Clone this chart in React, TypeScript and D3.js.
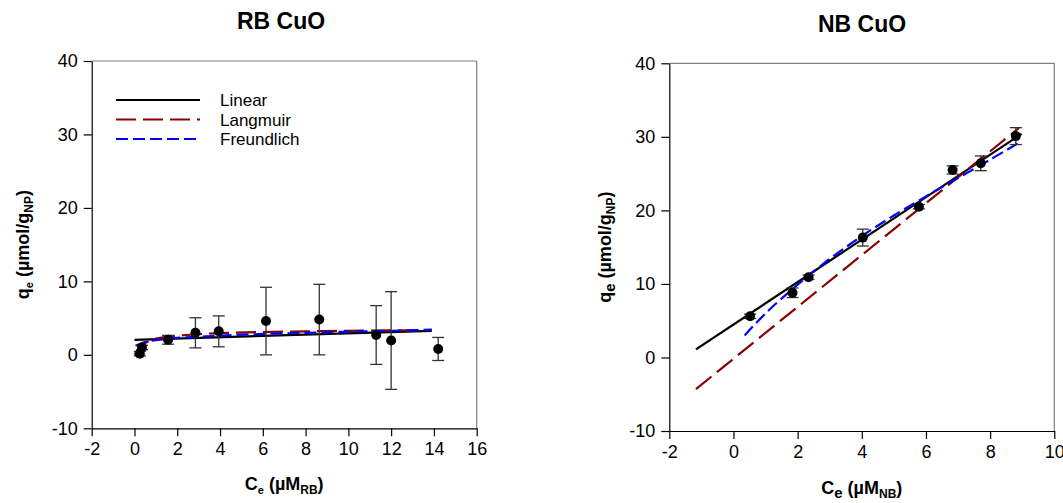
import * as d3 from "d3";
import React from "react";

// RB CuO measured points
const rbCe = [0.25, 0.35, 1.57, 2.85, 3.94, 6.15, 8.64, 11.3, 12.0, 14.2];
const rbQe = [0.15, 1.0, 2.05, 3.0, 3.2, 4.6, 4.8, 2.7, 1.95, 0.8];
const rbErr = [0.3, 0.3, 0.6, 2.05, 2.1, 4.6, 4.8, 4.0, 6.65, 1.57];
// RB fitted curves
const rbLinear = [[0.0, 2.04], [13.9, 3.27]];
const rbLangmuir = [[0.0, 0.0], [0.2, 0.8], [0.5, 1.6], [1.0, 2.2], [2.0, 2.6], [4.0, 2.95], [6.0, 3.1], [8.0, 3.2], [10.0, 3.27], [12.0, 3.32], [13.9, 3.38]];
const rbFreundlich = [[0.05, 1.25], [0.5, 1.75], [1.0, 2.0], [2.0, 2.3], [4.0, 2.6], [6.0, 2.85], [8.0, 3.0], [10.0, 3.15], [12.0, 3.28], [13.9, 3.42]];

// NB CuO measured points
const nbCe = [0.52, 1.84, 2.34, 4.03, 5.78, 6.83, 7.71, 8.8];
const nbQe = [5.6, 8.8, 10.9, 16.3, 20.5, 25.5, 26.4, 30.1];
const nbErr = [0.3, 0.65, 0.3, 1.15, 0.3, 0.55, 1.0, 1.15];
const nbLinear = [[-1.17, 1.1], [8.98, 30.4]];
const nbLangmuir = [[-1.17, -4.3], [8.9, 31.2]];
const nbFreundlich = [[0.35, 3.0], [1.0, 6.0], [2.0, 9.9], [3.0, 13.4], [4.0, 16.5], [5.0, 19.3], [6.0, 21.9], [7.0, 24.4], [8.0, 26.9], [8.9, 29.2]];

const yTicks = [-10, 0, 10, 20, 30, 40];
const rbXTicks = [-2, 0, 2, 4, 6, 8, 10, 12, 14, 16];
const nbXTicks = [-2, 0, 2, 4, 6, 8, 10];

const legendNames = ["Linear", "Langmuir", "Freundlich"];
const styles = [
  { color: "#000000", dash: "" },
  { color: "#8b0000", dash: "20,7" },
  { color: "#0000ff", dash: "12,5" },
];

const font = "Liberation Sans, Arial, sans-serif";

const App = () => {
  const ref = React.useRef(null);

  React.useEffect(() => {
    const svg = d3.select(ref.current);
    svg.selectAll("*").remove();

    const drawPanel = (opts) => {
      const { left, right, top, bottom, xDomain, xTicks, ce, qe, err, fits, title, titleX, xSub, yLabelX, bigSub, legend } = opts;
      const x = d3.scaleLinear().domain(xDomain).range([left, right]);
      const y = d3.scaleLinear().domain([-10, 40]).range([bottom, top]);
      const g = svg.append("g");

      // frame: top/right grey
      g.append("line").attr("x1", left).attr("x2", right).attr("y1", top).attr("y2", top).attr("stroke", "#808080").attr("stroke-width", 1.2);
      g.append("line").attr("x1", right).attr("x2", right).attr("y1", top).attr("y2", bottom).attr("stroke", "#808080").attr("stroke-width", 1.2);

      const fmt = (d) => String(d);
      const yAxis = g.append("g").attr("transform", `translate(${left},0)`)
        .call(d3.axisLeft(y).tickValues(yTicks).tickSize(8).tickSizeOuter(0).tickFormat(fmt));
      const xAxis = g.append("g").attr("transform", `translate(0,${bottom})`)
        .call(d3.axisBottom(x).tickValues(xTicks).tickSize(8).tickSizeOuter(0).tickFormat(fmt));
      [yAxis, xAxis].forEach((a) => {
        a.selectAll("text").attr("font-family", font).attr("font-size", 18).attr("fill", "#000");
        a.select(".domain").attr("stroke", "#000").attr("stroke-width", 1.2);
        a.selectAll(".tick line").attr("stroke", "#000").attr("stroke-width", 1.2);
      });
      yAxis.selectAll("text").attr("x", -14);
      xAxis.selectAll("text").attr("y", 14);

      // fits
      const line = d3.line().x((d) => x(d[0])).y((d) => y(d[1])).curve(d3.curveCatmullRom);
      fits.forEach((f, i) => {
        g.append("path").attr("d", line(f)).attr("fill", "none")
          .attr("stroke", styles[i].color).attr("stroke-width", 2.2)
          .attr("stroke-dasharray", styles[i].dash);
      });

      // error bars
      const pts = ce.map((c, i) => ({ c, q: qe[i], e: err[i] }));
      const eb = g.append("g").attr("stroke", "#333").attr("stroke-width", 1.3);
      pts.forEach((p) => {
        eb.append("line").attr("x1", x(p.c)).attr("x2", x(p.c)).attr("y1", y(p.q - p.e)).attr("y2", y(p.q + p.e));
        [p.q - p.e, p.q + p.e].forEach((v) => {
          eb.append("line").attr("x1", x(p.c) - 6).attr("x2", x(p.c) + 6).attr("y1", y(v)).attr("y2", y(v));
        });
      });
      g.selectAll(null).data(pts).enter().append("circle")
        .attr("cx", (d) => x(d.c)).attr("cy", (d) => y(d.q)).attr("r", 5).attr("fill", "#000");

      // title
      g.append("text").attr("x", titleX).attr("y", opts.titleY).attr("text-anchor", "middle")
        .attr("font-family", font).attr("font-weight", "bold").attr("font-size", 23).text(title);

      // x label
      const xl = g.append("text").attr("x", (left + right) / 2 + 0).attr("y", opts.xLabelY).attr("text-anchor", "middle")
        .attr("font-family", font).attr("font-weight", "bold").attr("font-size", 18);
      xl.append("tspan").text("C");
      xl.append("tspan").attr("font-size", bigSub ? 15 : 11).attr("dy", 4).text("e");
      xl.append("tspan").attr("dy", -4).text(" (\u00b5M");
      xl.append("tspan").attr("font-size", 12).attr("dy", 4).text(xSub);
      xl.append("tspan").attr("dy", -4).text(")");

      // y label
      const yl = g.append("text").attr("transform", `translate(${yLabelX},${(top + bottom) / 2 - 0}) rotate(-90)`)
        .attr("text-anchor", "middle").attr("font-family", font).attr("font-weight", "bold").attr("font-size", 18);
      yl.append("tspan").text("q");
      yl.append("tspan").attr("font-size", bigSub ? 15 : 11).attr("dy", 4).text("e");
      yl.append("tspan").attr("dy", -4).text(" (\u00b5mol/g");
      yl.append("tspan").attr("font-size", 12).attr("dy", 4).text("NP");
      yl.append("tspan").attr("dy", -4).text(")");

      if (legend) {
        legendNames.forEach((n, i) => {
          const ly = 100 + i * 19.5;
          g.append("line").attr("x1", 116).attr("x2", 200).attr("y1", ly).attr("y2", ly)
            .attr("stroke", styles[i].color).attr("stroke-width", 2.2).attr("stroke-dasharray", styles[i].dash);
          g.append("text").attr("x", 220).attr("y", ly + 6).attr("font-family", font).attr("font-size", 17).text(n);
        });
      }
    };

    drawPanel({
      left: 91.7, right: 476.7, top: 61, bottom: 428.3,
      xDomain: [-2, 16], xTicks: rbXTicks,
      ce: rbCe, qe: rbQe, err: rbErr,
      fits: [rbLinear, rbLangmuir, rbFreundlich],
      title: "RB CuO", titleX: 281, titleY: 29,
      xSub: "RB", xLabelY: 490, yLabelX: 29, bigSub: false, legend: true,
    });
    drawPanel({
      left: 669.3, right: 1054.3, top: 63.3, bottom: 431,
      xDomain: [-2, 10], xTicks: nbXTicks,
      ce: nbCe, qe: nbQe, err: nbErr,
      fits: [nbLinear, nbLangmuir, nbFreundlich],
      title: "NB CuO", titleX: 862, titleY: 32,
      xSub: "NB", xLabelY: 494, yLabelX: 611, bigSub: true, legend: false,
    });
  }, []);

  return (
    <svg ref={ref} width={1063} height={503} style={{ position: "absolute", left: 0, top: 0, background: "#fff" }} />
  );
};

export default App;
